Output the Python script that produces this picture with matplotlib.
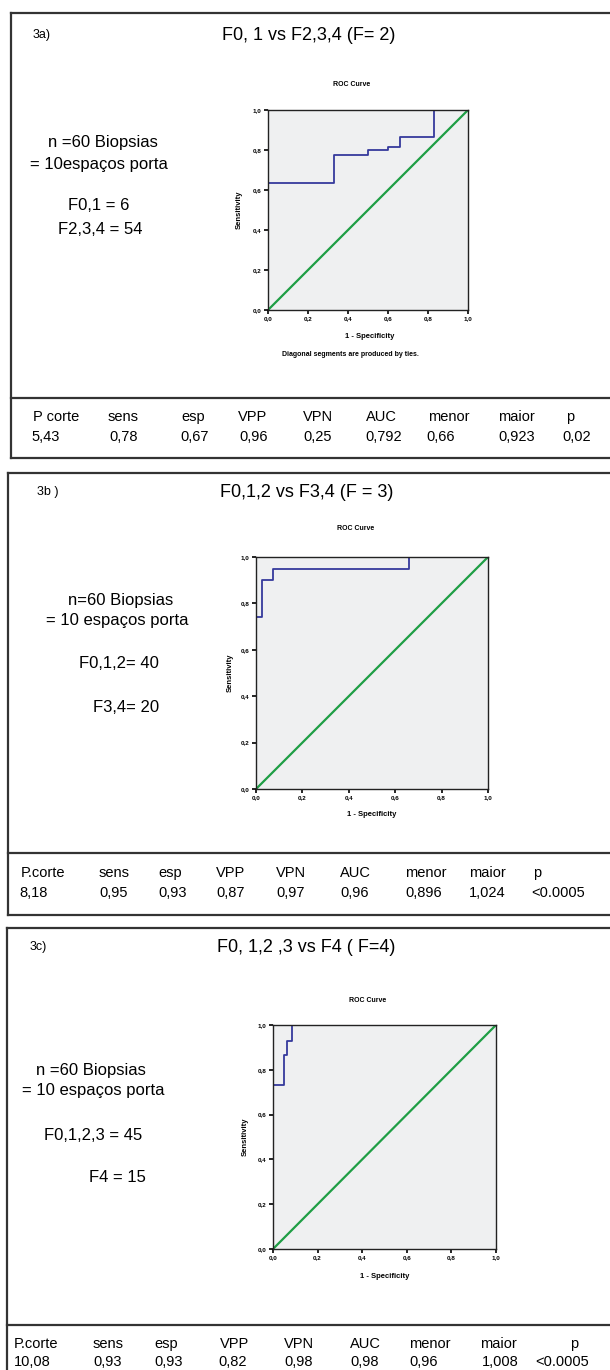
import matplotlib
matplotlib.use('Agg')
import matplotlib.pyplot as plt
from matplotlib.lines import Line2D

plt.rcParams['font.family'] = ['Liberation Sans Narrow', 'Liberation Sans', 'DejaVu Sans']

# --- data ---
panel_labels = ['3a)', '3b )', '3c)']
titles = ['F0, 1 vs F2,3,4 (F= 2)', 'F0,1,2 vs F3,4 (F = 3)', 'F0, 1,2 ,3 vs F4 ( F=4)']
info_a = ['n =60 Biopsias', '= 10espaços porta', 'F0,1 = 6', 'F2,3,4 = 54']
info_b = ['n=60 Biopsias', '= 10 espaços porta', 'F0,1,2= 40', 'F3,4= 20']
info_c = ['n =60 Biopsias', '= 10 espaços porta', 'F0,1,2,3 = 45', 'F4 = 15']

head_a = ['P corte', 'sens', 'esp', 'VPP', 'VPN', 'AUC', 'menor', 'maior', 'p']
head_b = ['P.corte', 'sens', 'esp', 'VPP', 'VPN', 'AUC', 'menor', 'maior', 'p']
vals_a = ['5,43', '0,78', '0,67', '0,96', '0,25', '0,792', '0,66', '0,923', '0,02']
vals_b = ['8,18', '0,95', '0,93', '0,87', '0,97', '0,96', '0,896', '1,024', '<0.0005']
vals_c = ['10,08', '0,93', '0,93', '0,82', '0,98', '0,98', '0,96', '1,008', '<0.0005']

# ROC curves (1 - specificity, sensitivity)
fpr_a = [0, 0, 0.33, 0.33, 0.50, 0.50, 0.60, 0.60, 0.66, 0.66, 0.83, 0.83, 1.0]
tpr_a = [0, 0.635, 0.635, 0.775, 0.775, 0.80, 0.80, 0.815, 0.815, 0.865, 0.865, 1.0, 1.0]
fpr_b = [0, 0, 0.025, 0.025, 0.075, 0.075, 0.66, 0.66, 1.0]
tpr_b = [0, 0.74, 0.74, 0.90, 0.90, 0.95, 0.95, 1.0, 1.0]
fpr_c = [0, 0, 0.05, 0.05, 0.063, 0.063, 0.085, 0.085, 1.0]
tpr_c = [0, 0.73, 0.73, 0.865, 0.865, 0.93, 0.93, 1.0, 1.0]

ticks = [0, 0.2, 0.4, 0.6, 0.8, 1.0]
tick_labels = ['0,0', '0,2', '0,4', '0,6', '0,8', '1,0']

W, H = 610, 1370
fig = plt.figure(figsize=(6.1, 13.7), dpi=100)


def fx(x):
    return x / W


def fy(y):
    return 1 - y / H


def line(xs, ys, lw=1.6):
    fig.add_artist(Line2D([fx(x) for x in xs], [fy(y) for y in ys],
                          color='#333333', lw=lw))


def txt(x, y, s, size=10, ha='left', **kw):
    fig.text(fx(x), fy(y), s, fontsize=size, ha=ha, va='center', **kw)


def roc(box, fpr, tpr, title_xy, xlab_xy, ylab_x, note=None):
    l, t, r, b = box
    ax = fig.add_axes([fx(l), fy(b), fx(r) - fx(l), (b - t) / H])
    ax.set_facecolor('#eff0f1')
    ax.plot([0, 1], [0, 1], color='#1f9e45', lw=1.6)
    ax.plot(fpr, tpr, color='#353a9c', lw=1.3)
    ax.set_xlim(0, 1)
    ax.set_ylim(0, 1)
    ax.set_xticks(ticks)
    ax.set_yticks(ticks)
    ax.set_xticklabels(tick_labels, fontsize=4.5, fontweight='bold')
    ax.set_yticklabels(tick_labels, fontsize=4.5, fontweight='bold')
    ax.tick_params(length=3, width=1.2, pad=1.5)
    for s in ax.spines.values():
        s.set_linewidth(1.0)
        s.set_color('#222222')
    txt(title_xy[0], title_xy[1], 'ROC Curve', size=5, ha='center', fontweight='bold')
    txt(xlab_xy[0], xlab_xy[1], '1 - Specificity', size=5.5, ha='center', fontweight='bold')
    fig.text(fx(ylab_x), fy((t + b) / 2), 'Sensitivity', fontsize=5.5, fontweight='bold',
             rotation=90, ha='center', va='center')
    if note:
        txt(note[0], note[1], note[2], size=5, ha='center', fontweight='bold')


def panel(left, top, div, bottom, label, label_xy, title, title_x, info, info_xy,
          head, head_x, vals, vals_x, head_y, vals_y):
    line([left, W], [top, top])
    line([left, left], [top, bottom])
    line([left, W], [div, div])
    line([left, W], [bottom, bottom])
    txt(label_xy[0], label_xy[1], label, size=9)
    txt(title_x, label_xy[1], title, size=13, ha='center')
    for s, (x, y) in zip(info, info_xy):
        txt(x, y, s, size=12, ha='center')
    for s, x in zip(head, head_x):
        txt(x, head_y, s, size=10.5)
    for s, x in zip(vals, vals_x):
        txt(x, vals_y, s, size=10.5)


# panel a
panel(11, 13, 398, 458, panel_labels[0], (33, 35), titles[0], 309, info_a,
      [(103, 143), (99, 164), (99, 206), (100, 230)],
      head_a, [33, 108, 181, 238, 303, 366, 428, 498, 566],
      vals_a, [31, 109, 180, 239, 303, 365, 426, 498, 562], 417, 437)
roc((268, 110, 468, 310), fpr_a, tpr_a, (352, 85), (370, 337), 239,
    note=(350, 355, 'Diagonal segments are produced by ties.'))

# panel b
panel(8, 473, 853, 915, panel_labels[1], (37, 492), titles[1], 307, info_b,
      [(121, 600), (117, 621), (119, 664), (126, 708)],
      head_b, [21, 99, 158, 216, 276, 340, 405, 469, 533],
      vals_b, [19, 99, 158, 216, 276, 340, 405, 469, 531], 873, 893)
roc((256, 557, 488, 789), fpr_b, tpr_b, (356, 529), (372, 815), 230)

# panel c
panel(7, 928, 1325, 1380, panel_labels[2], (30, 947), titles[2], 306, info_c,
      [(91, 1070), (93, 1091), (93, 1135), (117, 1177)],
      head_b, [14, 93, 154, 220, 284, 350, 409, 480, 570],
      vals_c, [14, 93, 154, 218, 284, 350, 409, 482, 535], 1344, 1362)
roc((273, 1025, 496, 1249), fpr_c, tpr_c, (368, 1000), (385, 1277), 245)

fig.savefig('out.png', dpi=100)
